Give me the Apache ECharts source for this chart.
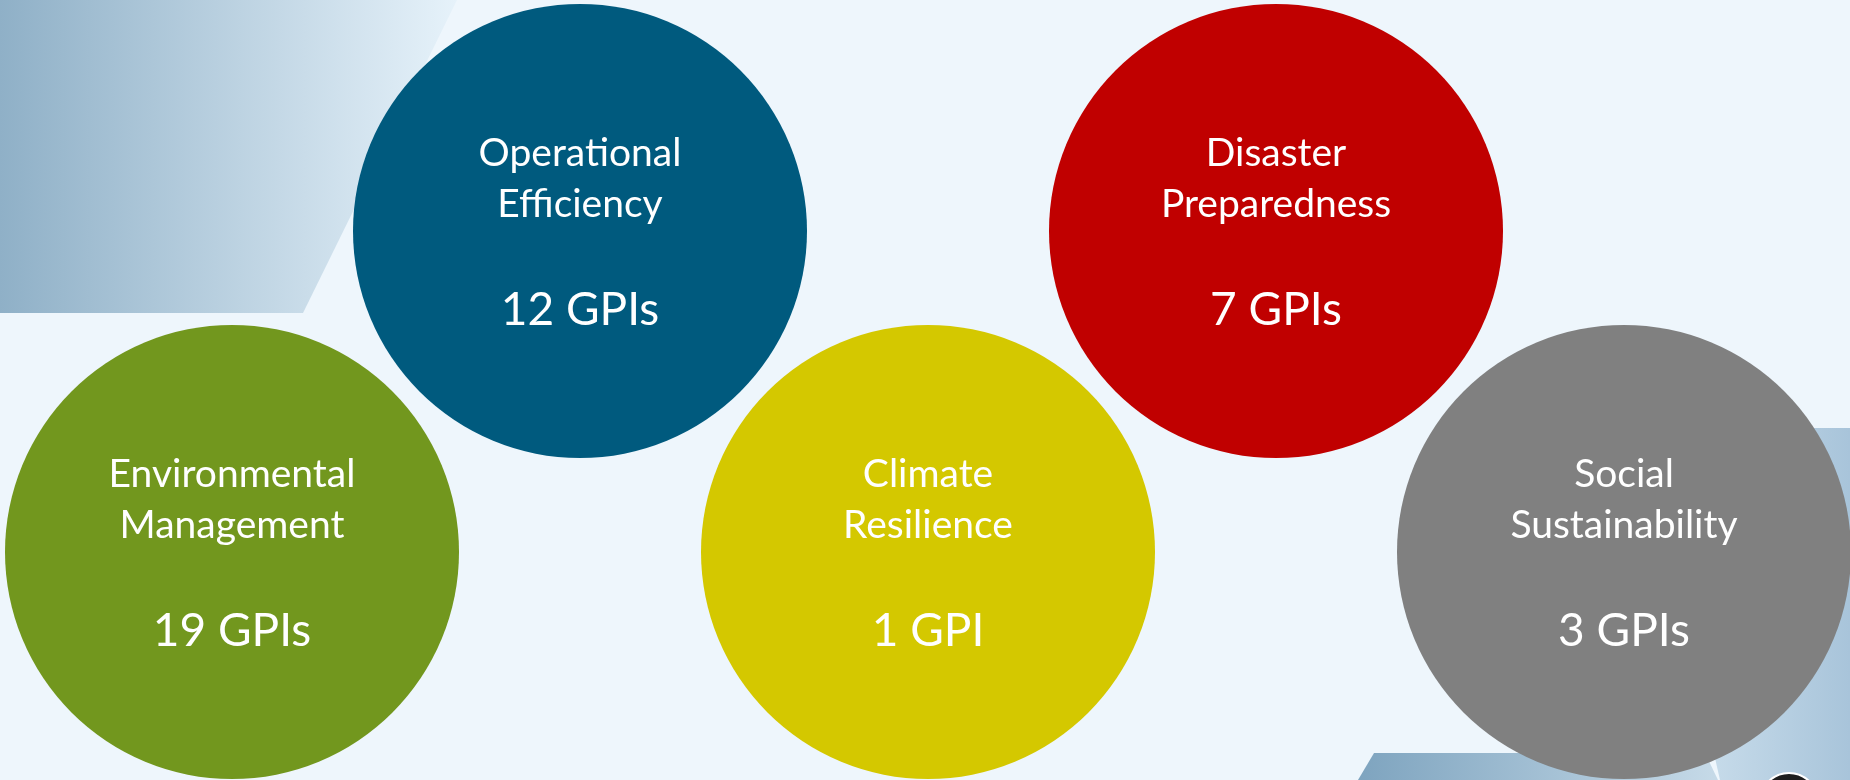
<!DOCTYPE html>
<html>
<head>
<meta charset="utf-8">
<script src="https://cdn.jsdelivr.net/npm/echarts@6/dist/echarts.min.js"></script>
<style>
html,body{margin:0;padding:0;background:#EEF6FC;}
#chart{width:1850px;height:780px;}
</style>
</head>
<body>
<div id="chart"></div>
<script>
// ---- data ----
const categories = ['Environmental Management', 'Operational Efficiency', 'Climate Resilience', 'Disaster Preparedness', 'Social Sustainability'];
const gpiCounts = [19, 12, 1, 7, 3];
const rowOf = ['Lower', 'Upper', 'Lower', 'Upper', 'Lower'];
const rowCategories = ['Upper', 'Lower'];

// ---- style ----
const circleColors = ['#72971E', '#005A7E', '#D4C800', '#C00000', '#808080'];

const chart = echarts.init(document.getElementById('chart'));

function grad(c1, c2) {
  return new echarts.graphic.LinearGradient(0, 0, 1, 0, [
    { offset: 0, color: c1 }, { offset: 1, color: c2 }
  ]);
}

const option = {
  backgroundColor: '#EEF6FC',
  animation: false,
  graphic: [
    {
      type: 'polygon', z: 0, silent: true,
      shape: { points: [[0, 0], [457, 0], [303, 313], [0, 313]] },
      style: { fill: grad('#8FB0C7', '#E6F2FA') }
    },
    {
      type: 'polygon', z: 0, silent: true,
      shape: { points: [[1640, 428], [1850, 428], [1850, 780], [1720, 780]] },
      style: { fill: grad('#D6E7F2', '#A8C4DA') }
    },
    {
      type: 'polygon', z: 0, silent: true,
      shape: { points: [[1374, 753], [1705, 753], [1718, 780], [1358, 780]] },
      style: { fill: grad('#7EA4BF', '#C6DAE8') }
    },
    {
      type: 'circle', z: 10, silent: true,
      shape: { cx: 1789, cy: 802, r: 29 },
      style: { fill: '#1E1E1E', stroke: '#FFFFFF', lineWidth: 2 }
    },
    {
      type: 'circle', z: 11, silent: true,
      shape: { cx: 1789, cy: 802, r: 20 },
      style: { fill: 'none', stroke: '#DDDDDD', lineWidth: 1 }
    }
  ],
  grid: { left: 58, right: 52, top: 70.5, bottom: 67.5, containLabel: false },
  xAxis: {
    type: 'category', data: categories, boundaryGap: true, show: false
  },
  yAxis: {
    type: 'category', data: rowCategories, inverse: true, boundaryGap: true, show: false
  },
  series: [{
    type: 'scatter',
    z: 2,
    silent: true,
    symbol: 'circle',
    symbolSize: 454,
    data: categories.map((c, i) => ({
      name: c,
      value: [c, rowOf[i]],
      count: gpiCounts[i],
      itemStyle: { color: circleColors[i], opacity: 1 }
    })),
    label: {
      show: true,
      position: 'inside',
      offset: [0, 28],
      formatter: p => {
        const parts = p.name.split(' ');
        const n = p.data.count;
        return '{t|' + parts[0] + '}\n{t|' + parts[1] + '}\n{n|' + n + ' GPI' + (n === 1 ? '' : 's') + '}';
      },
      rich: {
        t: { fontFamily: 'Lato', fontSize: 39, lineHeight: 51, color: '#FFFFFF' },
        n: { fontFamily: 'Lato', fontSize: 46, lineHeight: 161, color: '#FFFFFF' }
      }
    },
    emphasis: { disabled: true }
  }]
};
chart.setOption(option);
</script>
</body>
</html>
